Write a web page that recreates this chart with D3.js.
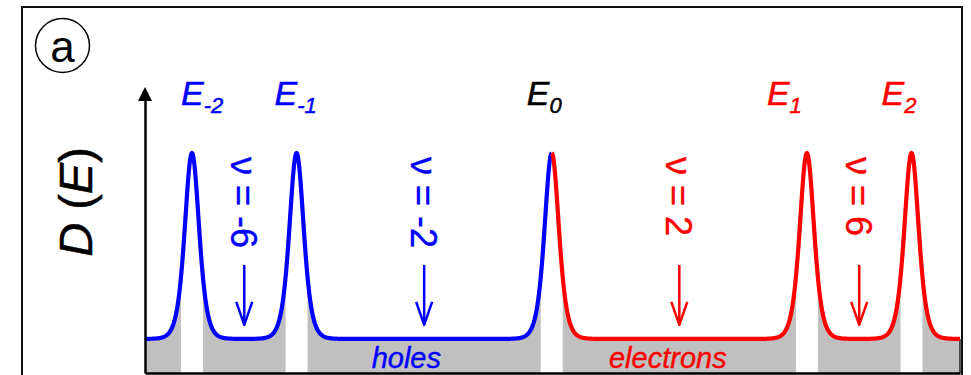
<!DOCTYPE html>
<html>
<head>
<meta charset="utf-8">
<script src="https://cdn.jsdelivr.net/npm/d3@7"></script>
<style>
  html, body { margin: 0; padding: 0; background: #fff; }
  svg { display: block; }
  text { font-family: "Liberation Sans", Arial, Helvetica, sans-serif; }
</style>
</head>
<body>
<svg id="chart" width="971" height="375"></svg>
<script>
// Landau levels: index, energy (in units of the n = 1 level) and subscript label
const levelIndex  = [-2, -1, 0, 1, 2];
const levelEnergy = [-1.41, -1.0, 0.0, 1.0, 1.41];
const levelLabel  = ["-2", "-1", "0", "1", "2"];

// Filling factors of the gaps between neighbouring levels
const fillingFactor = [-6, -2, 2, 6];

// Density-of-states model
const backgroundDOS      = 0.155;  // flat DOS between the levels
const peakDOS            = 1.0;    // DOS at the centre of a level
const levelWidth         = 0.0375; // sech^2 broadening of each level
const localizedHalfWidth = 0.043;  // half-width of the localized band at each level centre

// Axis extents
const energyRange = [-1.594, 1.6];
const dosRange    = [0, 1.3];

// Carrier labels and their energies
const carrierLabel  = ["holes", "electrons"];
const carrierEnergy = [-0.57, 0.455];

// ---------------------------------------------------------------------------
const BLUE = "#0000ff", RED = "#ff0000", GRAY = "#c0c0c0";

const svg = d3.select("#chart");

const x = d3.scaleLinear().domain(energyRange).range([145, 960]);
const y = d3.scaleLinear().domain(dosRange).range([373, 87]);

// broadened level line shape: sech^2
function levelShape(u) {
  const c = Math.cosh(u);
  return 1 / (c * c);
}
function dos(e) {
  let s = 0;
  for (const en of levelEnergy) s += levelShape((e - en) / levelWidth);
  return backgroundDOS + (peakDOS - backgroundDOS) * s;
}

// sample the model curve
const step = 0.002;
const energies = d3.range(energyRange[0], energyRange[1] + step / 2, step);
const curve = energies.map(e => ({ e, d: dos(e) }));
const holeSide = curve.filter(p => p.e <= 0);
const electronSide = curve.filter(p => p.e >= 0);
if (holeSide[holeSide.length - 1].e < 0) holeSide.push({ e: 0, d: dos(0) });
if (electronSide[0].e > 0) electronSide.unshift({ e: 0, d: dos(0) });

// outer frame
svg.append("rect")
  .attr("x", 22).attr("y", 7)
  .attr("width", 940).attr("height", 420)
  .attr("fill", "none").attr("stroke", "#111").attr("stroke-width", 2);

// occupied (extended) states: gray area under the curve
const area = d3.area()
  .x(p => x(p.e)).y0(y(0)).y1(p => y(p.d))
  .curve(d3.curveLinear);
svg.append("path").datum(curve)
  .attr("d", area).attr("fill", GRAY);

// localized states at the level centres are left blank
svg.append("g").selectAll("rect")
  .data(levelEnergy)
  .join("rect")
  .attr("x", e => x(e - localizedHalfWidth))
  .attr("width", e => x(e + localizedHalfWidth) - x(e - localizedHalfWidth))
  .attr("y", y(peakDOS) - 4)
  .attr("height", y(0) - y(peakDOS) + 4)
  .attr("fill", "#fff");

// right edge of the band
svg.append("line")
  .attr("x1", x(energyRange[1])).attr("x2", x(energyRange[1]))
  .attr("y1", y(backgroundDOS)).attr("y2", y(0))
  .attr("stroke", "#222").attr("stroke-width", 1.5);

// DOS curve: holes (blue) and electrons (red)
const line = d3.line().x(p => x(p.e)).y(p => y(p.d)).curve(d3.curveLinear);
svg.append("path").datum(holeSide)
  .attr("d", line).attr("fill", "none")
  .attr("stroke", BLUE).attr("stroke-width", 4.2).attr("stroke-linejoin", "round");
svg.append("path").datum(electronSide)
  .attr("d", line).attr("fill", "none")
  .attr("stroke", RED).attr("stroke-width", 4.2).attr("stroke-linejoin", "round");

// axes (no ticks)
svg.append("g")
  .attr("transform", `translate(0,${y(0)})`)
  .call(d3.axisBottom(x).tickValues([]).tickSizeOuter(0))
  .call(g => g.select(".domain").attr("stroke", "#000").attr("stroke-width", 2.5));
const yAxisScale = d3.scaleLinear().domain(dosRange).range([373, 100]);
svg.append("g")
  .attr("transform", `translate(${x(energyRange[0])},0)`)
  .call(d3.axisLeft(yAxisScale).tickValues([]).tickSizeOuter(0))
  .call(g => g.select(".domain").attr("stroke", "#000").attr("stroke-width", 2.5));
svg.append("path")
  .attr("d", `M${x(energyRange[0]) - 7},${y(dosRange[1]) + 14} L${x(energyRange[0])},${y(dosRange[1])} L${x(energyRange[0]) + 7},${y(dosRange[1]) + 14} Z`)
  .attr("fill", "#000");

// level labels E_n
const labelDx = [-11, -22, -25, -40, -30];
const labelColor = i => levelIndex[i] < 0 ? BLUE : levelIndex[i] > 0 ? RED : "#000";
levelEnergy.forEach((en, i) => {
  const t = svg.append("text")
    .attr("x", x(en) + labelDx[i])
    .attr("y", 105)
    .attr("fill", labelColor(i))
    .attr("stroke", labelColor(i)).attr("stroke-width", 0.5)
    .attr("font-style", "italic");
  t.append("tspan").attr("font-size", 34).text("E");
  t.append("tspan").attr("font-size", 22).attr("dy", 8).text(levelLabel[i]);
});

// filling factors in the gaps, with arrows pointing to the Fermi level
fillingFactor.forEach((nu, i) => {
  const xm = (x(levelEnergy[i]) + x(levelEnergy[i + 1])) / 2;
  const col = nu < 0 ? BLUE : RED;
  svg.append("text")
    .attr("transform", `translate(${xm - 13},157) rotate(90)`)
    .attr("font-size", 36)
    .attr("fill", col)
    .attr("stroke", col).attr("stroke-width", 0.4)
    .text(`ν = ${nu}`);
  const tipY = y(backgroundDOS) - 14;
  svg.append("line")
    .attr("x1", xm).attr("x2", xm)
    .attr("y1", tipY - 60).attr("y2", tipY)
    .attr("stroke", col).attr("stroke-width", 2.5);
  svg.append("path")
    .attr("d", `M${xm - 8},${tipY - 23} L${xm},${tipY} L${xm + 8},${tipY - 23}`)
    .attr("fill", "none").attr("stroke", col).attr("stroke-width", 2.5)
    .attr("stroke-linejoin", "round");
});

// carrier labels
carrierLabel.forEach((lab, i) => {
  const col = i === 0 ? BLUE : RED;
  svg.append("text")
    .attr("x", x(carrierEnergy[i]))
    .attr("y", 368)
    .attr("text-anchor", "middle")
    .attr("font-size", 29)
    .attr("font-style", "italic")
    .attr("fill", col)
    .attr("stroke", col).attr("stroke-width", 0.4)
    .text(lab);
});

// y-axis title D(E)
const yt = svg.append("text")
  .attr("transform", "translate(92,202) rotate(-90)")
  .attr("text-anchor", "middle")
  .attr("font-size", 47)
  .attr("fill", "#000")
  .attr("stroke", "#000").attr("stroke-width", 0.5);
yt.append("tspan").attr("font-style", "italic").text("D");
yt.append("tspan").text(" (");
yt.append("tspan").attr("font-style", "italic").text("E");
yt.append("tspan").text(")");

// panel tag
svg.append("circle")
  .attr("cx", 62.5).attr("cy", 45.5).attr("r", 27)
  .attr("fill", "none").attr("stroke", "#000").attr("stroke-width", 1.5);
svg.append("text")
  .attr("x", 62.5).attr("y", 62)
  .attr("text-anchor", "middle")
  .attr("font-size", 44)
  .attr("fill", "#000")
  .text("a");
</script>
</body>
</html>
